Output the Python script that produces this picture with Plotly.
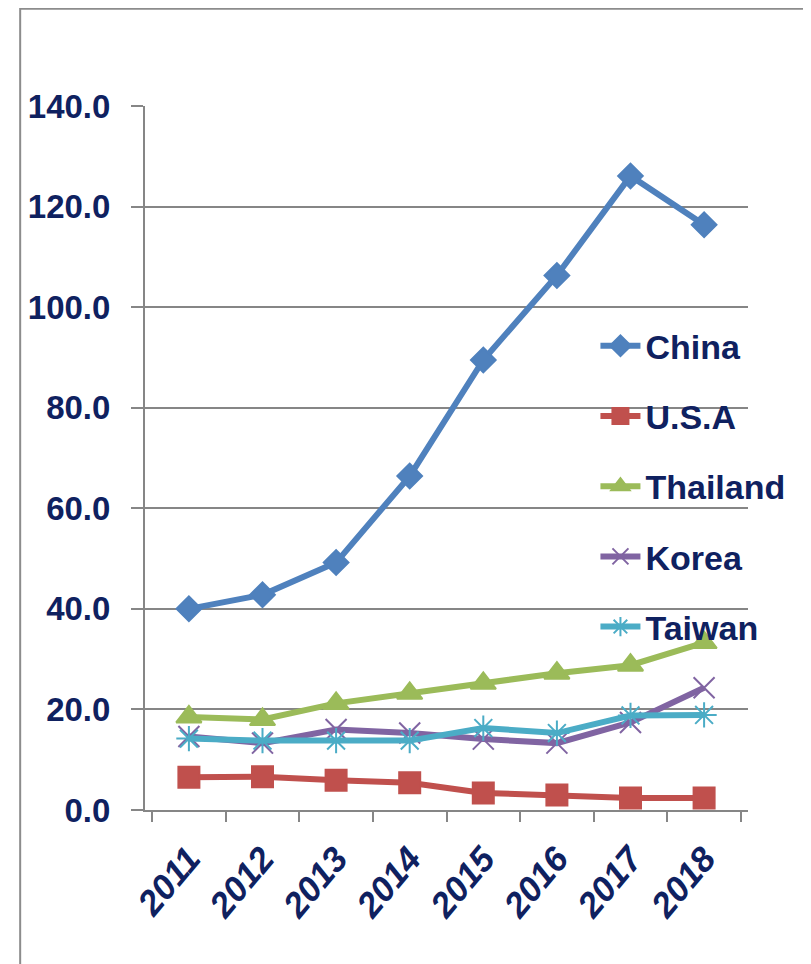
import plotly.graph_objects as go

years = ["2011", "2012", "2013", "2014", "2015", "2016", "2017", "2018"]

china = [40.0, 42.8, 49.2, 66.4, 89.5, 106.3, 126.1, 116.4]
usa = [6.5, 6.6, 5.9, 5.4, 3.4, 3.0, 2.4, 2.4]
thailand = [18.5, 18.0, 21.2, 23.2, 25.2, 27.2, 28.8, 33.3]
korea = [14.6, 13.3, 16.0, 15.3, 14.1, 13.3, 17.4, 24.3]
taiwan = [14.2, 13.8, 13.8, 13.8, 16.3, 15.3, 18.8, 18.9]

series = [
    ("China", china, "#4F81BD", "diamond", 19),
    ("U.S.A", usa, "#C0504D", "square", 21),
    ("Thailand", thailand, "#9BBB59", "triangle-up", 22),
    ("Korea", korea, "#8064A2", "x-thin-open", 21),
    ("Taiwan", taiwan, "#4BACC6", "asterisk-open", 21),
]

navy = "#0F2160"
font_name = "Liberation Sans, Arial, sans-serif"

fig = go.Figure()
for name, vals, color, symbol, size in series:
    fig.add_trace(
        go.Scatter(
            x=years,
            y=vals,
            mode="lines+markers",
            name=name,
            legendgroup=name,
            line=dict(color=color, width=6),
            marker=dict(symbol=symbol, size=size, color=color,
                        line=dict(color=color, width=2)),
        )
    )

fig.update_layout(
    width=811,
    height=964,
    margin=dict(l=137, r=71, t=98, b=162),
    paper_bgcolor="white",
    plot_bgcolor="white",
    showlegend=True,
    legend=dict(
        x=0.747,
        y=0.70,
        xanchor="left",
        yanchor="top",
        bgcolor="rgba(0,0,0,0)",
        tracegroupgap=23,
        itemwidth=40,
        font=dict(family=font_name, size=34, color=navy, weight="bold"),
    ),
)

fig.update_xaxes(
    type="category",
    tickson="boundaries",
    ticks="outside",
    ticklen=10,
    tickwidth=2,
    tickcolor="#868686",
    showline=True,
    linecolor="#868686",
    linewidth=2,
    showgrid=False,
    tickangle=-50,
    ticklabelstandoff=12,
    tickfont=dict(family=font_name, size=35, color=navy, weight="bold", style="italic"),
)
fig.update_yaxes(
    range=[0, 140],
    dtick=20,
    tickformat=".1f",
    ticks="outside",
    ticklen=12,
    tickwidth=2,
    tickcolor="#868686",
    showline=True,
    linecolor="#868686",
    linewidth=2,
    showgrid=True,
    gridcolor="#868686",
    gridwidth=2,
    zeroline=False,
    ticklabelstandoff=14,
    tickfont=dict(family=font_name, size=33, color=navy, weight="bold"),
)

# outer frame of the chart box
fig.add_shape(
    type="rect",
    xref="paper",
    yref="paper",
    x0=-0.207,
    x1=1.3,
    y0=-0.4,
    y1=1.138,
    line=dict(color="#8C8C8C", width=2),
    fillcolor="rgba(0,0,0,0)",
    layer="below",
)

fig.write_html("out.html")
